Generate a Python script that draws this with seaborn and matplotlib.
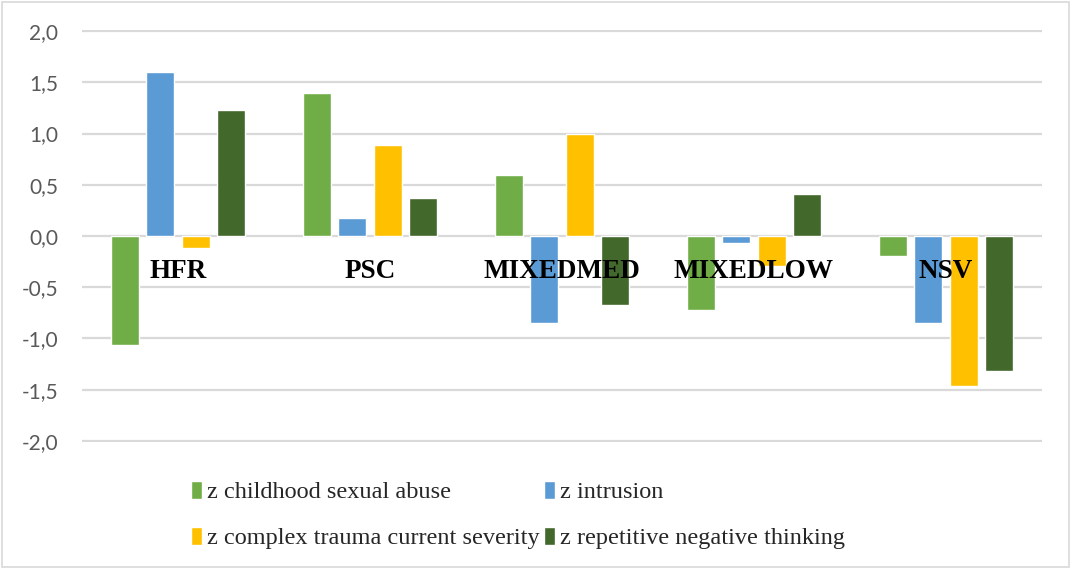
import numpy as np
import pandas as pd
import seaborn as sns
import matplotlib.pyplot as plt
from matplotlib.patches import Rectangle

# Data
groups = ["HFR", "PSC", "MIXEDMED", "MIXEDLOW", "NSV"]
series = ["z childhood sexual abuse", "z intrusion",
          "z complex trauma current severity", "z repetitive negative thinking"]
csa = [-1.06, 1.40, 0.60, -0.72, -0.20]
intrusion = [1.60, 0.18, -0.85, -0.07, -0.85]
complex_trauma = [-0.12, 0.89, 1.00, -0.29, -1.46]
rnt = [1.23, 0.37, -0.67, 0.41, -1.32]
colors = ["#70AD47", "#5B9BD5", "#FFC000", "#43682B"]
yticks = [-2.0, -1.5, -1.0, -0.5, 0.0, 0.5, 1.0, 1.5, 2.0]

df = pd.DataFrame({"group": groups * 4,
                   "series": np.repeat(series, len(groups)),
                   "value": csa + intrusion + complex_trauma + rnt})

sns.set_theme(style="white")
fig = plt.figure(figsize=(10.71, 5.69), dpi=100)
ax = fig.add_axes([82 / 1071, 1 - 442 / 569, 960 / 1071, 412 / 569])

sns.barplot(data=df, x="group", y="value", hue="series", order=groups,
            hue_order=series, palette=colors, width=0.73, gap=0.2,
            saturation=1, errorbar=None, ax=ax, legend=True)

ax.set_ylim(-2.01, 2.01)
ax.set_xlim(-0.5, len(groups) - 0.5)
ax.set_yticks(yticks)
ax.set_yticklabels([f"{t:.1f}".replace(".", ",") for t in yticks],
                   fontsize=15, color="#595959", family="Lato")
ax.tick_params(axis="y", length=0, pad=17)
ax.set_xticks([])
ax.set_xlabel("")
ax.set_ylabel("")
ax.yaxis.grid(True, color="#d9d9d9", linewidth=1.6)
ax.set_axisbelow(True)
for s in ax.spines.values():
    s.set_visible(False)

# category labels drawn inside the plot
for i, g in enumerate(groups):
    ax.text(i, -0.35, g, ha="center", va="center", fontsize=19.5,
            fontweight="bold", family="Liberation Serif", color="black")

handles, labels = ax.get_legend_handles_labels()
ax.get_legend().remove()
order = [0, 2, 1, 3]
fig.legend([handles[i] for i in order], [labels[i] for i in order],
           loc="center", bbox_to_anchor=(518 / 1071, 1 - 515 / 569),
           ncol=2, frameon=False, prop={"family": "Liberation Serif", "size": 17.5},
           handlelength=0.45, handleheight=0.8, handletextpad=0.2,
           columnspacing=0.2, labelspacing=0.95)

fig.patches.append(Rectangle((0.002, 0.003), 0.996, 0.994, transform=fig.transFigure,
                             fill=False, edgecolor="#d9d9d9", linewidth=1.2))

fig.savefig("out.png", dpi=100, facecolor="white")
